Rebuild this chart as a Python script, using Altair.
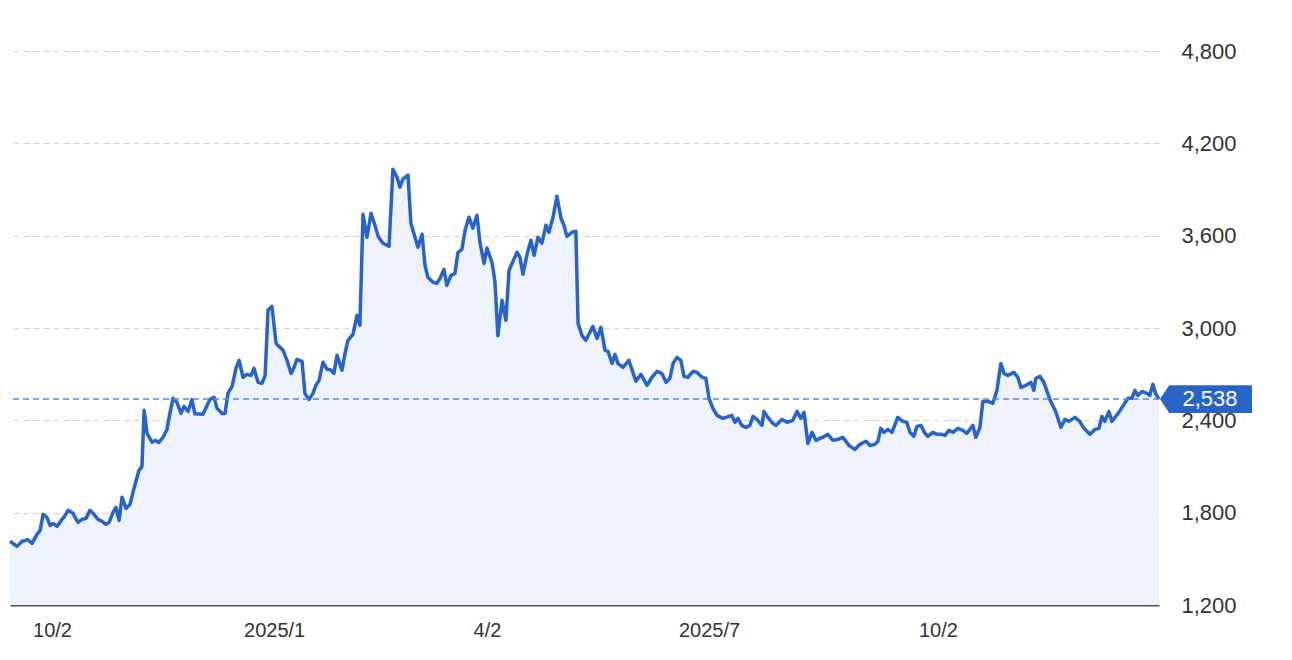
import altair as alt
import pandas as pd

# Days since 2024-10-02 (calendar days) and closing price
DAYS = [-17.3, -14.4, -12.3, -9.9, -8.2, -6.2, -4.9, -3.7, -2.1, -0.8,
        0.4, 2.1, 4.1, 4.9, 6.6, 8.6, 10.7, 12.3, 14.0, 15.6,
        16.9, 18.9, 20.6, 22.2, 23.5, 25.1, 26.3, 27.6, 28.8, 30.5,
        32.1, 33.3, 35.0, 35.8, 37.0, 37.9, 39.1, 41.2, 42.4, 44.0,
        45.7, 47.3, 48.6, 49.8, 51.4, 53.1, 54.3, 56.0, 57.6, 58.8,
        62.1, 63.8, 65.0, 66.7, 67.9, 70.0, 71.2, 72.4, 74.1, 75.7,
        77.0, 78.6, 80.2, 81.9, 83.1, 84.8, 86.4, 87.7, 88.9, 90.5,
        92.2, 93.8, 95.1, 96.7, 98.4, 99.6, 100.8, 102.9, 104.1, 105.8,
        107.4, 108.6, 109.9, 111.5, 113.2, 114.4, 116.0, 117.3, 119.3, 120.6,
        121.8, 123.9, 125.5, 126.7, 128.0, 129.6, 131.3, 132.9, 134.2, 136.2,
        138.7, 140.3, 142.0, 143.2, 144.4, 146.5, 147.7, 150.6, 152.3, 153.5,
        154.7, 156.8, 158.4, 159.7, 161.3, 162.5, 164.2, 165.8, 167.1, 168.7,
        170.0, 171.6, 173.2, 174.9, 176.1, 177.8, 179.0, 181.1, 182.3, 183.5,
        185.2, 186.8, 188.1, 189.7, 191.4, 192.6, 193.8, 195.5, 197.1, 198.4,
        200.0, 201.6, 203.3, 204.5, 206.2, 207.8, 209.5, 210.7, 211.9, 214.0,
        215.6, 216.5, 218.1, 219.7, 221.4, 222.6, 224.3, 225.9, 227.6, 228.8,
        230.5, 231.7, 232.9, 235.0, 237.4, 240.3, 242.4, 244.9, 246.9, 249.0,
        251.0, 252.7, 254.3, 255.6, 257.2, 258.8, 260.1, 261.7, 263.8, 265.4,
        267.5, 269.1, 270.4, 272.0, 273.7, 276.1, 279.8, 281.1, 282.3, 283.9,
        285.6, 287.2, 288.5, 290.1, 292.2, 293.0, 294.6, 296.7, 297.9, 300.4,
        302.5, 304.9, 306.6, 308.2, 309.5, 311.1, 312.8, 314.4, 316.0, 317.3,
        319.3, 321.4, 323.5, 325.5, 328.0, 330.4, 332.5, 335.0, 336.6, 338.7,
        339.9, 341.1, 342.4, 344.0, 345.7, 348.1, 350.2, 351.8, 353.1, 354.7,
        356.0, 357.6, 359.3, 360.5, 362.5, 364.2, 366.2, 367.5, 369.1, 370.8,
        372.8, 374.9, 376.5, 379.0, 380.2, 381.9, 383.1, 385.2, 387.2, 388.9,
        390.5, 391.8, 393.4, 395.9, 397.5, 398.8, 400.8, 402.9, 404.1, 404.9,
        406.6, 408.2, 410.7, 413.2, 415.2, 416.9, 418.5, 421.0, 423.0, 424.7,
        427.2, 429.2, 430.9, 432.1, 433.3, 435.0, 436.2, 439.1, 441.2, 442.8,
        444.4, 445.7, 446.9, 448.6, 450.6, 451.8, 453.1, 454.3, 455.6]

PRICES = [1614, 1581, 1614, 1624, 1600, 1659, 1685, 1789, 1770, 1717,
          1730, 1711, 1756, 1770, 1815, 1796, 1737, 1756, 1763, 1815,
          1796, 1756, 1744, 1724, 1737, 1802, 1834, 1750, 1900, 1828,
          1854, 1932, 2030, 2075, 2101, 2465, 2315, 2257, 2270, 2257,
          2290, 2341, 2452, 2543, 2517, 2445, 2491, 2458, 2535, 2442,
          2439, 2497, 2536, 2549, 2478, 2445, 2445, 2575, 2621, 2738,
          2790, 2680, 2699, 2692, 2738, 2647, 2640, 2692, 3115, 3141,
          2900, 2875, 2855, 2790, 2705, 2744, 2796, 2783, 2575, 2536,
          2575, 2627, 2660, 2777, 2731, 2731, 2705, 2822, 2725, 2835,
          2920, 2960, 3082, 3017, 3739, 3590, 3746, 3668, 3596, 3551,
          3531, 4032, 3980, 3915, 3967, 3993, 3681, 3525, 3609, 3407,
          3330, 3297, 3290, 3323, 3381, 3277, 3342, 3355, 3492, 3511,
          3635, 3720, 3648, 3732, 3560, 3420, 3520, 3425, 3300, 2950,
          3180, 3050, 3375, 3433, 3492, 3459, 3349, 3479, 3570, 3472,
          3590, 3551, 3668, 3622, 3720, 3856, 3713, 3668, 3596, 3622,
          3629, 3030, 2952, 2920, 2972, 3011, 2933, 3004, 2855, 2849,
          2770, 2829, 2770, 2744, 2790, 2655, 2699, 2627, 2680, 2718,
          2705, 2647, 2673, 2770, 2809, 2790, 2686, 2680, 2718, 2712,
          2680, 2673, 2543, 2478, 2432, 2413, 2432, 2387, 2413, 2367,
          2354, 2367, 2426, 2406, 2367, 2458, 2419, 2380, 2367, 2406,
          2387, 2400, 2458, 2413, 2452, 2250, 2322, 2270, 2283, 2290,
          2309, 2270, 2277, 2290, 2237, 2211, 2244, 2264, 2237, 2244,
          2264, 2348, 2322, 2341, 2322, 2419, 2393, 2387, 2322, 2296,
          2361, 2367, 2315, 2296, 2322, 2309, 2309, 2302, 2335, 2322,
          2348, 2335, 2315, 2367, 2290, 2354, 2523, 2523, 2510, 2595,
          2770, 2705, 2692, 2712, 2680, 2614, 2627, 2647, 2595, 2673,
          2686, 2647, 2536, 2452, 2354, 2406, 2393, 2419, 2393, 2348,
          2309, 2341, 2348, 2426, 2393, 2458, 2393, 2452, 2504, 2543,
          2543, 2595, 2562, 2588, 2575, 2562, 2634, 2569, 2538]

TICK_DAYS = [0, 91.4, 179.0, 270.4, 364.6]
TICK_LABELS = ["10/2", "2025/1", "4/2", "2025/7", "10/2"]
Y_TICKS = [1200, 1800, 2400, 3000, 3600, 4200, 4800]
LAST_PRICE = 2538

LINE_COLOR = "#2a63c6"
FILL_COLOR = "#edf2fb"
FONT = "Liberation Sans"

df = pd.DataFrame({"day": DAYS, "price": PRICES})
last_df = pd.DataFrame({"price": [LAST_PRICE]})

# label expression built from tick lists
expr = "''"
for i in range(len(TICK_DAYS) - 1, -1, -1):
    expr = f"abs(datum.value - {TICK_DAYS[i]}) < 1 ? '{TICK_LABELS[i]}' : ({expr})"

x_scale = alt.Scale(domain=[DAYS[0], DAYS[-1]], nice=False, zero=False)
y_scale = alt.Scale(domain=[1200, 4800], nice=False, zero=False)

x_axis = alt.Axis(values=TICK_DAYS, labelExpr=expr, grid=False, ticks=False,
                  domain=True, domainColor="#4b5263", domainWidth=2,
                  labelFontSize=20, labelColor="#333333", labelFont=FONT,
                  labelPadding=15, labelFlush=False, labelOverlap=False, title=None)
y_axis = alt.Axis(values=Y_TICKS, labelExpr="format(datum.value, ',')", orient="right", grid=True,
                  gridDash=[6, 4], gridColor="#d3d4d8", gridWidth=1,
                  domain=False, ticks=False, labelFontSize=22, labelColor="#333333",
                  labelFont=FONT, labelPadding=22, labelAlign="left", title=None)

x_enc = alt.X("day:Q", scale=x_scale, axis=x_axis)
y_enc = alt.Y("price:Q", scale=y_scale, axis=y_axis)

area = alt.Chart(df).mark_area(color=FILL_COLOR, opacity=1).encode(
    x=x_enc, y=y_enc, y2=alt.datum(1200),
)
line = alt.Chart(df).mark_line(color=LINE_COLOR, strokeWidth=3.5, strokeJoin="round").encode(
    x=x_enc, y=y_enc,
)
rule = alt.Chart(last_df).mark_rule(color="#5b88d8", strokeDash=[6, 4], strokeWidth=1.5).encode(
    y=y_enc,
)
box_path = "M -1 0 L -0.8 -0.3 L 1 -0.3 L 1 0.3 L -0.8 0.3 Z"
box = alt.Chart(last_df).mark_point(shape=box_path, filled=True, opacity=1, color=LINE_COLOR,
                                     size=92 * 92, strokeWidth=0).encode(
    x=alt.value(1196), y=y_enc,
)
label = alt.Chart(last_df).mark_text(color="white", fontSize=22, font=FONT, align="center",
                                     baseline="middle").encode(
    x=alt.value(1200), y=y_enc,
    text=alt.Text("price:Q", format=","),
)

chart = alt.layer(area, line, rule, box, label).properties(
    width=1149, height=554,
    autosize=alt.AutoSizeParams(type="none"),
    padding={"left": 2, "top": 43, "right": 125, "bottom": 40},
    background="white",
).configure_view(stroke=None)

chart.save("out.html", embed_options={"renderer": "svg", "actions": False})
